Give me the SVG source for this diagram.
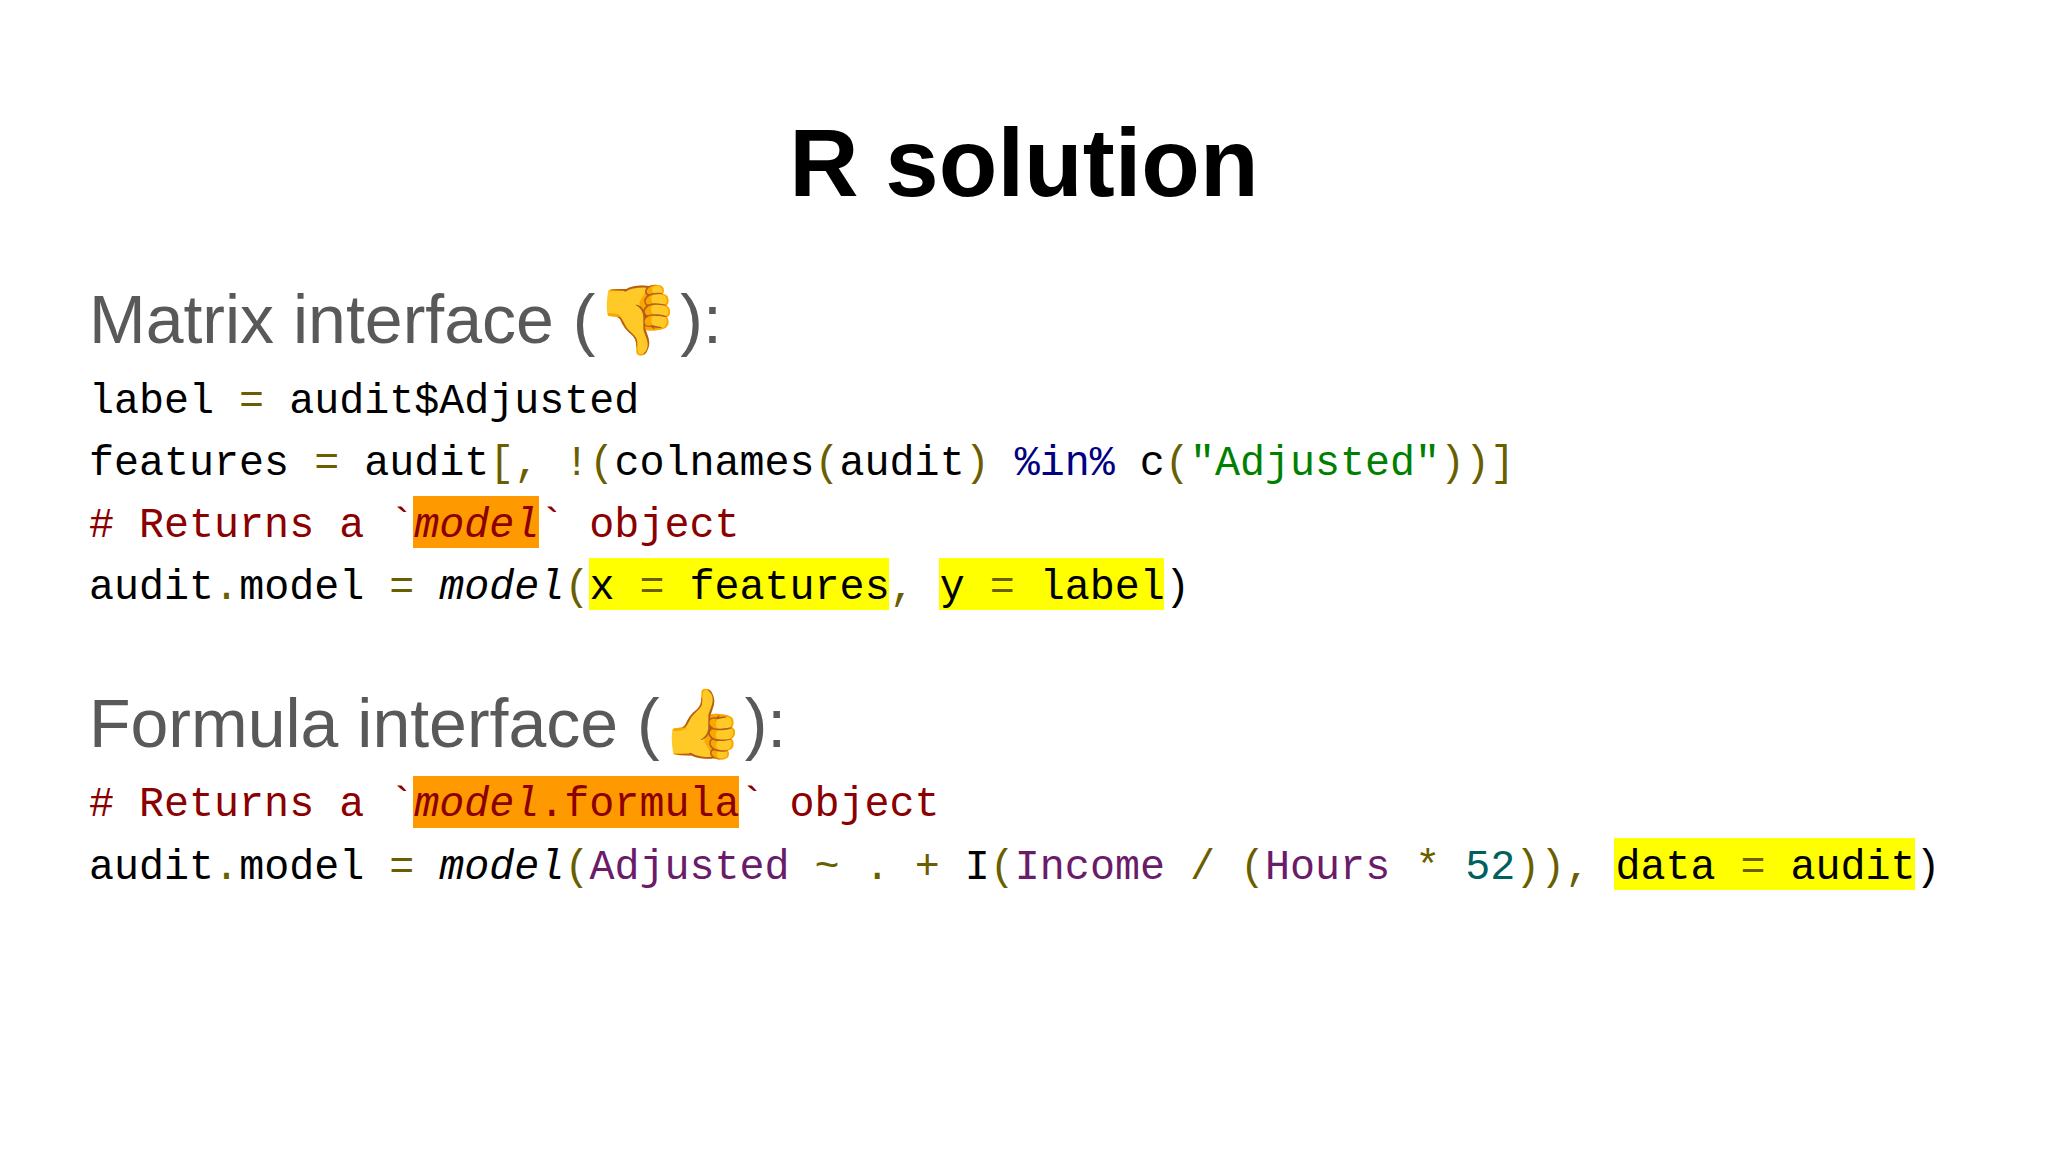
<svg xmlns="http://www.w3.org/2000/svg" width="2048" height="1152" viewBox="0 0 2048 1152">
<style>
.t{font-family:"Liberation Sans",Arial,sans-serif;font-weight:bold;font-size:96px;fill:#000}
.h{font-family:"Liberation Sans",Arial,sans-serif;font-size:68px;fill:#595959}
.c{font-family:"Liberation Mono","DejaVu Sans Mono",monospace;font-size:41.7px;fill:#000;white-space:pre}
.o{fill:#6b5e00}.n{fill:#000080}.s{fill:#008000}.k{fill:#8b0000}.i{font-style:italic}.p{fill:#6a1b6a}.m{fill:#006060}
.y{fill:#ffff00}.or{fill:#ff9900}
</style>
<rect width="2048" height="1152" fill="#fff"/>
<g id="title"><text class="t" x="1024" y="196" text-anchor="middle">R solution</text></g>
<g id="matrix">
<text class="h" x="89" y="343">Matrix interface (<tspan font-family="DejaVu Sans,Noto Sans,sans-serif">👎</tspan>):</text>
<rect class="or" x="413" y="496" width="126" height="52"/>
<rect class="y" x="589" y="558" width="300" height="52"/>
<rect class="y" x="939" y="558" width="225" height="52"/>
<text class="c" x="89" y="413">label <tspan class="o">=</tspan> audit$Adjusted</text>
<text class="c" x="89" y="475">features <tspan class="o">=</tspan> audit<tspan class="o">[, !(</tspan>colnames<tspan class="o">(</tspan>audit<tspan class="o">)</tspan> <tspan class="n">%in%</tspan> c<tspan class="o">(</tspan><tspan class="s">"Adjusted"</tspan><tspan class="o">))]</tspan></text>
<text class="c k" x="89" y="537"># Returns a `<tspan class="i">model</tspan>` object</text>
<text class="c" x="89" y="599">audit<tspan class="o">.</tspan>model <tspan class="o">=</tspan> <tspan class="i">model</tspan><tspan class="o">(</tspan>x <tspan class="o">=</tspan> features<tspan class="o">,</tspan> y <tspan class="o">=</tspan> label)</text>
</g>
<g id="formula">
<text class="h" x="89" y="747">Formula interface (<tspan font-family="DejaVu Sans,Noto Sans,sans-serif">👍</tspan>):</text>
<rect class="or" x="413" y="776" width="326" height="52"/>
<rect class="y" x="1614" y="838" width="301" height="52"/>
<text class="c k" x="89" y="816"># Returns a `<tspan class="i">model</tspan>.formula` object</text>
<text class="c" x="89" y="879">audit<tspan class="o">.</tspan>model <tspan class="o">=</tspan> <tspan class="i">model</tspan><tspan class="o">(</tspan><tspan class="p">Adjusted</tspan> <tspan class="o">~</tspan> <tspan class="o">.</tspan> <tspan class="o">+</tspan> I<tspan class="o">(</tspan><tspan class="p">Income</tspan> <tspan class="o">/</tspan> <tspan class="o">(</tspan><tspan class="p">Hours</tspan> <tspan class="o">*</tspan> <tspan class="m">52</tspan><tspan class="o">)),</tspan> data <tspan class="o">=</tspan> audit)</text>
</g>
</svg>
